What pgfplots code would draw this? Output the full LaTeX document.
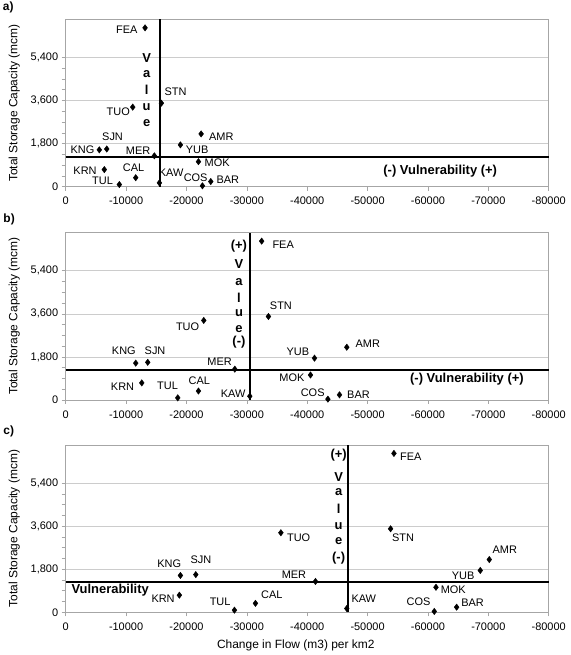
\documentclass[border=0pt]{standalone}
\usepackage{pgfplots}
\pgfplotsset{compat=1.18}
\usepackage{pgfplotstable}
\usepackage{fontspec}
\setmainfont{Liberation Sans}

\pgfplotstableread{
x y lab dx dy
-13145 6640 FEA -18.3 -1.5
-15850 3490 STN 14.2 11.5
-11100 3325 TUO -14.4 -5
-22430 2205 AMR 20.2 -3.2
-19000 1748 YUB 16.7 -5
-6800 1575 SJN 5.8 12
-5570 1540 KNG -16.8 0.3
-14690 1290 MER -16.3 4.7
-21990 1045 MOK 18.7 -0.8
-6400 715 KRN -19.3 -0.8
-11600 375 CAL -2.2 10
-24030 215 BAR 17.1 1.5
-8890 90 TUL -16.8 3.7
-15520 160 KAW 11.7 10.2
-22650 35 COS -6.8 8.5
}\dataA

\pgfplotstableread{
x y lab dx dy
-32460 6640 FEA 21.5 -3.8
-33580 3490 STN 12.5 10.5
-22870 3325 TUO -16.2 -6.7
-46560 2205 AMR 21 4
-41210 1748 YUB -16.6 6
-13590 1575 SJN 7.3 11.1
-11600 1540 KNG -11.9 12.1
-28010 1290 MER -15.2 7.1
-40550 1045 MOK -18.6 -2.6
-12600 715 KRN -19.2 -3.4
-21990 375 CAL 0.9 10.2
-45350 215 BAR 19 0.5
-18560 90 TUL -10.2 11.7
-30500 160 KAW -16.7 2.7
-43430 35 COS -15.2 6
}\dataB

\pgfplotstableread{
x y lab dx dy
-54370 6640 FEA 16.8 -3.8
-53810 3490 STN 12.4 -9.3
-35640 3325 TUO 17.8 -5
-70160 2205 AMR 15.5 10.2
-68670 1748 YUB -17.2 -5
-21550 1575 SJN 5.1 14.5
-19000 1540 KNG -11.1 11.8
-41370 1290 MER -21.5 7.2
-61330 1045 MOK 17.3 -2.9
-18830 715 KRN -16.3 -4
-31430 375 CAL 16.4 8.4
-64750 215 BAR 15.9 4.6
-27950 90 TUL -14.3 8
-46560 160 KAW 17 10
-61050 35 COS -15.7 9.3
}\dataC

\tikzset{ann/.style={font=\fontsize{13}{15}\selectfont\bfseries, inner sep=0pt, anchor=center}}
\pgfplotsset{
 panel/.style={
  scale only axis, width=483bp, height=167.5bp,
  x dir=reverse, xmin=-80000, xmax=0, ymin=0, ymax=7000,
  scaled x ticks=false, scaled y ticks=false,
  xtick={0,-10000,-20000,-30000,-40000,-50000,-60000,-70000,-80000},
  xticklabels={0,-10000,-20000,-30000,-40000,-50000,-60000,-70000,-80000},
  ytick={0,1800,3600,5400}, yticklabels={0,{1,800},{3,600},{5,400}},
  minor y tick num=3,
  tick align=outside, tick pos=left, major tick length=4bp, minor tick length=4bp,
  ymajorgrids, grid style={gray!40, line width=0.6pt},
  axis line style={gray!70, line width=0.6pt},
  tick style={gray!70, line width=0.6pt},
  tick label style={font=\fontsize{11}{13}\selectfont, text=black},
  xticklabel style={yshift=-3bp},
  ylabel={Total Storage Capacity (mcm)},
  every axis y label/.style={at={(axis description cs:-0.1064,0.5)}, rotate=90, anchor=center, font=\fontsize{12}{14}\selectfont},
  clip=false,
 },
 pts/.style={only marks, mark=diamond*, mark size=3.2bp, black, mark options={fill=black, draw=black},
  nodes near coords, point meta=explicit symbolic,
  visualization depends on={\thisrow{dx}\as\dx},
  visualization depends on={\thisrow{dy}\as\dy},
  every node near coord/.append style={anchor=center, xshift=\dx*1bp, yshift=\dy*1bp, font=\fontsize{11}{13}\selectfont, text=black, inner sep=0pt}},
 vline/.style={black, line width=2bp, no marks},
}

\begin{document}
\begin{tikzpicture}
\useasboundingbox (0,0) rectangle (571bp,655bp);

% panel a
\begin{axis}[panel, at={(65.7bp,468.3bp)}, anchor=south west]
\addplot[vline] coordinates {(-15650,0) (-15650,7000)};
\addplot[vline] coordinates {(0,1250) (-80000,1250)};
\addplot[pts] table[x=x, y=y, meta=lab] {\dataA};
\node[ann] at (axis cs:-13414,5383) {V};
\node[ann] at (axis cs:-13414,4703) {a};
\node[ann] at (axis cs:-13414,4035) {l};
\node[ann] at (axis cs:-13414,3339) {u};
\node[ann] at (axis cs:-13414,2671) {e};
\node[ann] at (axis cs:-62034,647) {(-) Vulnerability (+)};
\end{axis}

% panel b
\begin{axis}[panel, at={(65.7bp,255bp)}, anchor=south west]
\addplot[vline] coordinates {(-30600,0) (-30600,7000)};
\addplot[vline] coordinates {(0,1250) (-80000,1250)};
\addplot[pts] table[x=x, y=y, meta=lab] {\dataB};
\node[ann] at (axis cs:-28698,6439) {(+)};
\node[ann] at (axis cs:-28698,5678) {V};
\node[ann] at (axis cs:-28698,4943) {a};
\node[ann] at (axis cs:-28698,4266) {l};
\node[ann] at (axis cs:-28698,3643) {u};
\node[ann] at (axis cs:-28698,2978) {e};
\node[ann] at (axis cs:-28698,2397) {(-)};
\node[ann] at (axis cs:-66455,885) {(-) Vulnerability (+)};
\end{axis}

% panel c
\begin{axis}[panel, at={(65.7bp,42.7bp)}, anchor=south west,
  xlabel={Change in Flow (m3) per km2},
  every axis x label/.style={at={(axis description cs:0.4764,-0.197)}, anchor=center, font=\fontsize{12}{14}\selectfont}]
\addplot[vline] coordinates {(-46700,0) (-46700,7000)};
\addplot[vline] coordinates {(0,1250) (-80000,1250)};
\addplot[pts] table[x=x, y=y, meta=lab] {\dataC};
\node[ann] at (axis cs:-45209,6563) {(+)};
\node[ann] at (axis cs:-45209,5633) {V};
\node[ann] at (axis cs:-45209,5039) {a};
\node[ann] at (axis cs:-45209,4320) {l};
\node[ann] at (axis cs:-45209,3585) {u};
\node[ann] at (axis cs:-45209,2962) {e};
\node[ann] at (axis cs:-45209,2268) {(-)};
\node[ann] at (axis cs:-7369,926) {Vulnerability};
\end{axis}

\node[anchor=west, inner sep=0pt, font=\fontsize{12}{14}\selectfont\bfseries] at (2.7bp,647.7bp) {a)};
\node[anchor=west, inner sep=0pt, font=\fontsize{12}{14}\selectfont\bfseries] at (3.3bp,435.7bp) {b)};
\node[anchor=west, inner sep=0pt, font=\fontsize{12}{14}\selectfont\bfseries] at (3.3bp,223.3bp) {c)};
\end{tikzpicture}
\end{document}
